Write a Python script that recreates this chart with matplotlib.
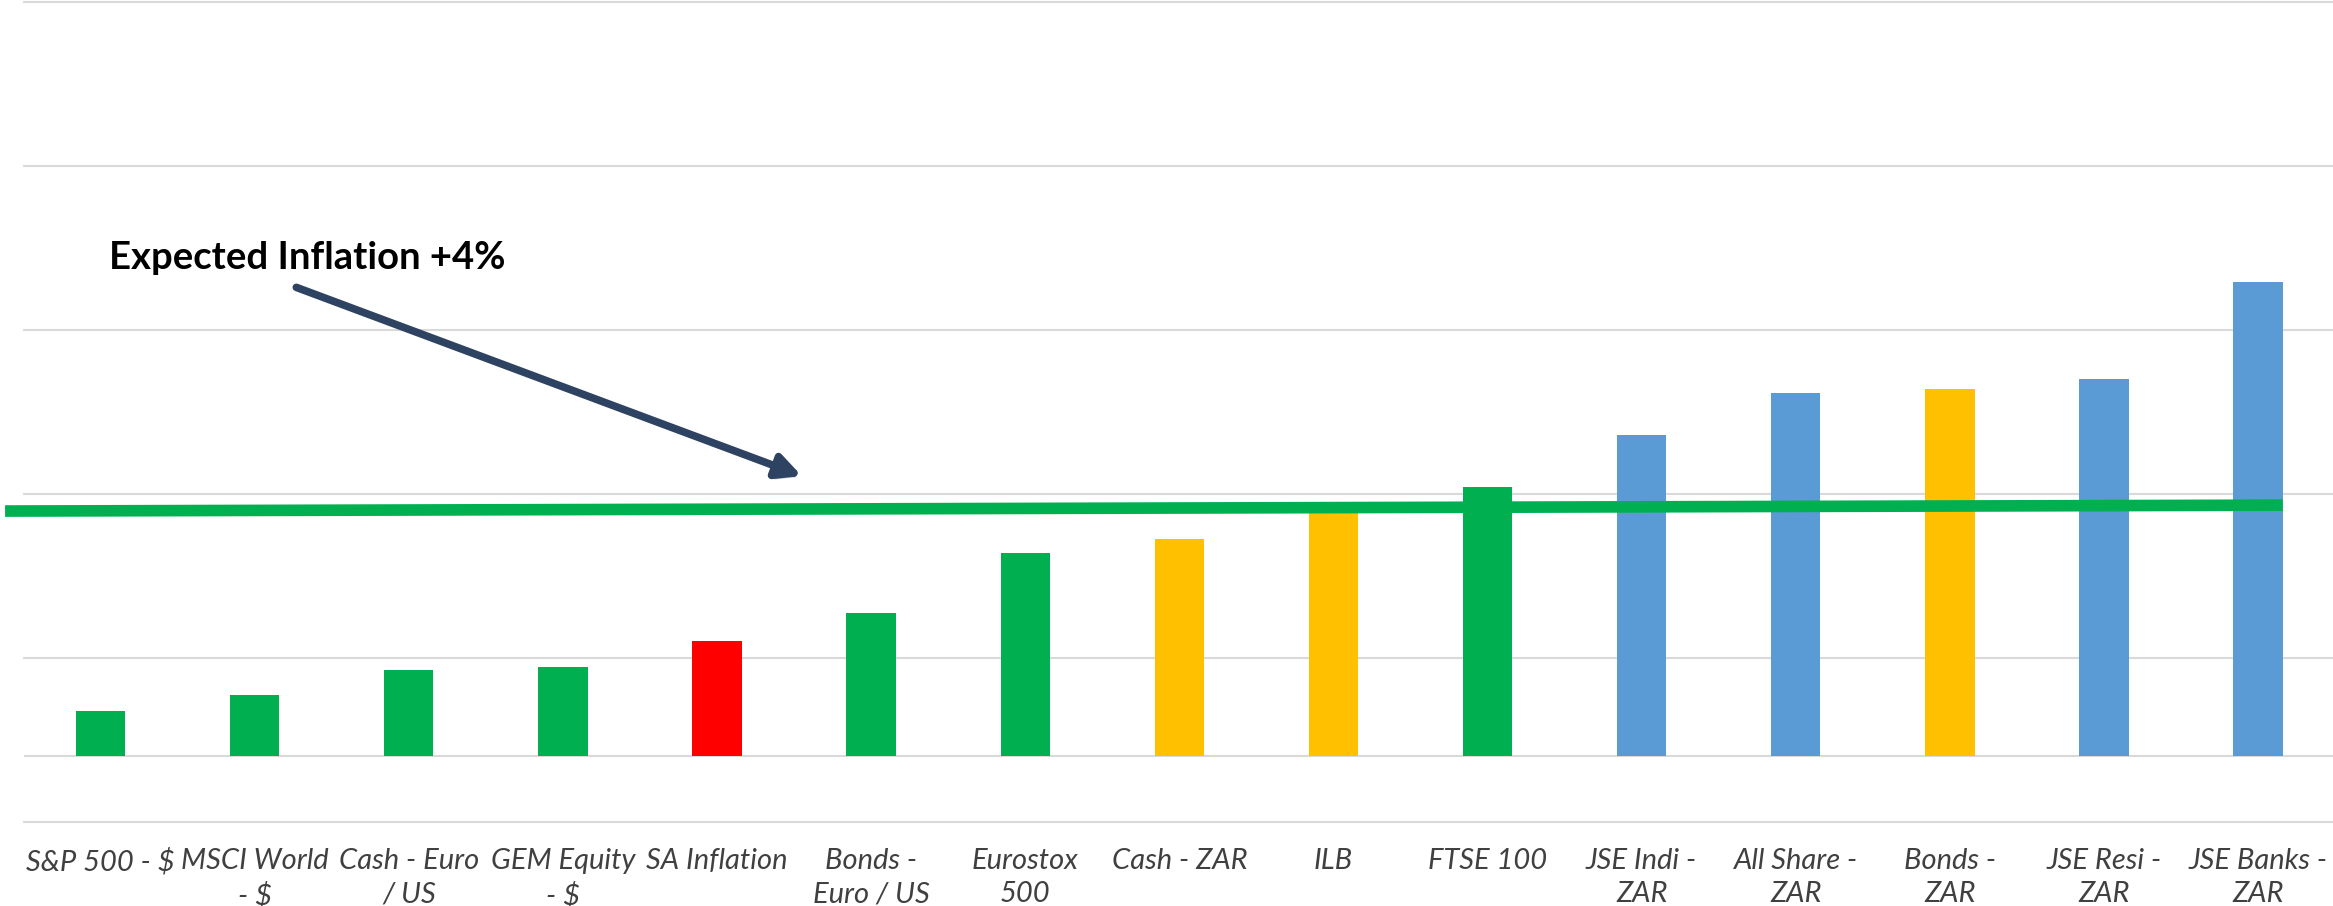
#!/usr/bin/env python3
"""
Asset class returns vs expected inflation +4% (bar chart recreation)
"""

import matplotlib
matplotlib.use("Agg")
import matplotlib.pyplot as plt
import matplotlib.patheffects as pe

categories = [
    "S&P 500 - $", "MSCI World\n- $", "Cash - Euro\n/ US", "GEM Equity\n- $",
    "SA Inflation", "Bonds -\nEuro / US", "Eurostox\n500", "Cash - ZAR",
    "ILB", "FTSE 100", "JSE Indi -\nZAR", "All Share -\nZAR", "Bonds -\nZAR",
    "JSE Resi -\nZAR", "JSE Banks -\nZAR",
]
returns = [1.37, 1.87, 2.62, 2.74, 3.51, 4.36, 6.19, 6.62,
           7.5, 8.2, 9.79, 11.09, 11.19, 11.52, 14.47]
asset_class = ["offshore", "offshore", "offshore", "offshore", "inflation",
               "offshore", "offshore", "local_income", "local_income",
               "offshore", "local_equity", "local_equity", "local_income",
               "local_equity", "local_equity"]
# expected inflation +4% line, drawn slightly tilted (left end, right end)
target_line = [7.48, 7.66]
target_label = "Expected Inflation +4%"
y_gridlines = [-2, 3, 8, 13, 18, 23]

COLOURS = {
    "offshore": "#00B050",
    "inflation": "#FF0000",
    "local_income": "#FFC000",
    "local_equity": "#5B9BD5",
}


def __plot():
    fig = plt.figure(figsize=(23.33, 9.06), dpi=100)
    ax = fig.add_axes([0.0101, 0.0927, 0.9908, 0.9051])

    x = list(range(len(categories)))
    colours = [COLOURS[c] for c in asset_class]
    bars = ax.bar(x, returns, width=0.32, color=colours, zorder=2)
    # FTSE bar sits in front of the target line in the original
    bars[categories.index("FTSE 100")].set_zorder(4)

    for g in y_gridlines:
        ax.axhline(g, color="#D9D9D9", lw=1.5, zorder=1, clip_on=False)
    ax.axhline(0, color="#D9D9D9", lw=1.5, zorder=1)

    half = 0.16
    ax.plot([-0.62, x[-1] + half], target_line, color="#00B050",
            lw=8.4, solid_capstyle="butt", zorder=3, clip_on=False)

    ax.annotate("", xy=(4.55, 8.55), xytext=(1.27, 14.3),
                arrowprops=dict(arrowstyle="-|>", color="#2E4361", lw=5.5,
                                mutation_scale=36, shrinkA=0, shrinkB=0,
                                path_effects=[pe.withSimplePatchShadow(
                                    offset=(2, -3), alpha=0.25)]),
                zorder=5)
    ax.text(0.055, 15.2, target_label, ha="left", va="center",
            fontsize=27.5, fontweight="bold", family="Lato", color="#000000")

    ax.set_xlim(-0.5, len(categories) - 0.5)
    ax.set_ylim(y_gridlines[0], y_gridlines[-1])
    ax.set_xticks(x)
    ax.set_xticklabels(categories, fontsize=21, style="italic",
                       family="Lato", color="#404040", linespacing=1.32)
    ax.tick_params(axis="x", length=0, pad=19)
    ax.set_yticks([])
    for s in ax.spines.values():
        s.set_visible(False)

    fig.savefig("out.png", dpi=100, facecolor="white")


def main():
    __plot()


if __name__ == '__main__':
    main()
